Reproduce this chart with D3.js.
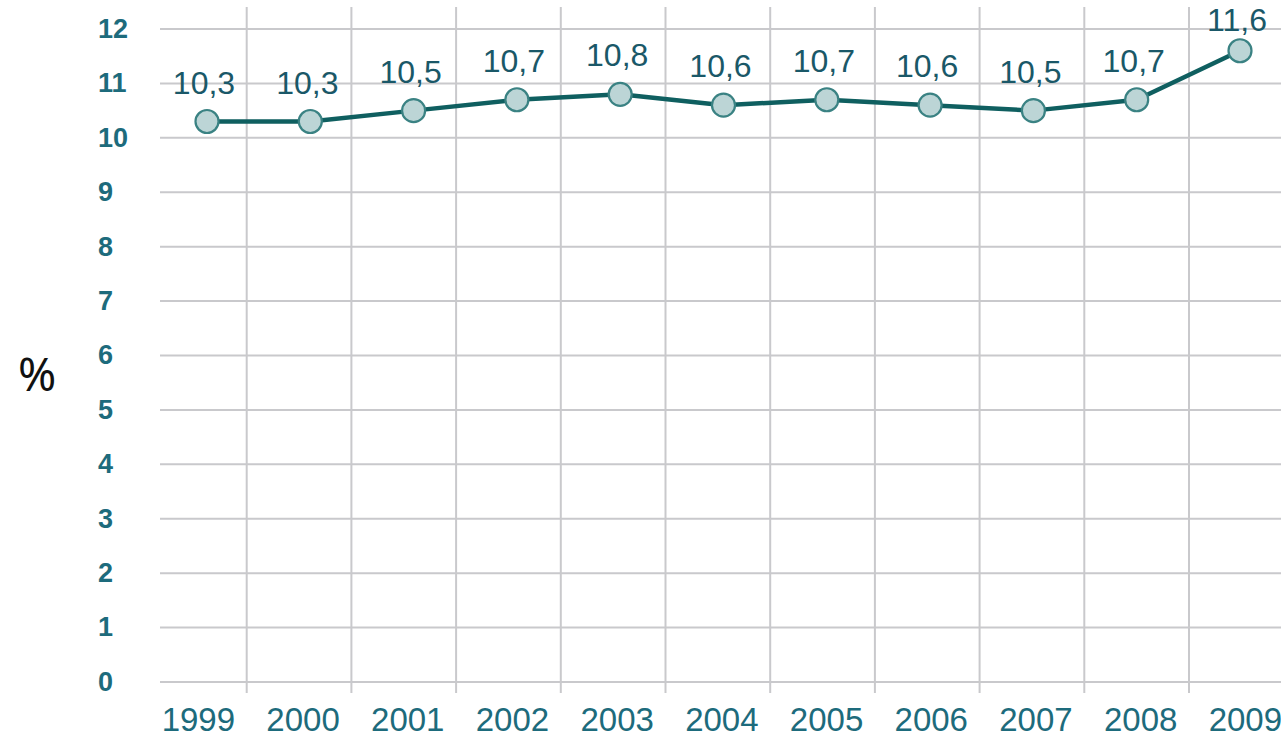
<!DOCTYPE html>
<html>
<head>
<meta charset="utf-8">
<script src="https://cdn.jsdelivr.net/npm/d3@7"></script>
<style>
  body { margin: 0; background: #fff; }
  svg { display: block; }
</style>
</head>
<body>
<div id="chart"></div>
<script>
// datos
const years = ['1999', '2000', '2001', '2002', '2003', '2004', '2005', '2006', '2007', '2008', '2009'];
const values = [10.3, 10.3, 10.5, 10.7, 10.8, 10.6, 10.7, 10.6, 10.5, 10.7, 11.6];
const yTicks = [0, 1, 2, 3, 4, 5, 6, 7, 8, 9, 10, 11, 12];

const width = 1281;
const height = 737;

const svg = d3.select('#chart')
  .append('svg')
  .attr('width', width)
  .attr('height', height);

// escalas: bandas para la rejilla y las etiquetas, puntos para la serie
const x = d3.scaleBand()
  .domain(years)
  .range([142, 1293.7]);

const xPoint = d3.scalePoint()
  .domain(years)
  .range([207, 1240]);

const y = d3.scaleLinear()
  .domain([0, 12])
  .range([682, 29]);

const teal = '#1d6b7c';

// rejilla horizontal
svg.append('g')
  .selectAll('line')
  .data(yTicks)
  .enter().append('line')
  .attr('x1', 160)
  .attr('x2', width)
  .attr('y1', d => y(d))
  .attr('y2', d => y(d))
  .attr('stroke', '#c9c9cc')
  .attr('stroke-width', 2);

// rejilla vertical (bordes de las bandas)
svg.append('g')
  .selectAll('line')
  .data(years.slice(1))
  .enter().append('line')
  .attr('x1', d => x(d))
  .attr('x2', d => x(d))
  .attr('y1', 7)
  .attr('y2', 693)
  .attr('stroke', '#c9c9cc')
  .attr('stroke-width', 2);

// etiquetas eje y
svg.append('g')
  .selectAll('text')
  .data(yTicks)
  .enter().append('text')
  .attr('x', 98)
  .attr('y', d => y(d))
  .attr('dy', '0.33em')
  .attr('font-family', '"Liberation Sans", Arial, sans-serif')
  .attr('font-size', 27)
  .attr('font-weight', 'bold')
  .attr('fill', teal)
  .text(d => d);

// etiquetas eje x
svg.append('g')
  .selectAll('text')
  .data(years)
  .enter().append('text')
  .attr('x', d => x(d) + x.bandwidth() / 2 + 4)
  .attr('y', 731)
  .attr('text-anchor', 'middle')
  .attr('font-family', '"Liberation Sans", Arial, sans-serif')
  .attr('font-size', 33)
  .attr('fill', teal)
  .text(d => d);

// titulo eje y
svg.append('text')
  .attr('x', 37)
  .attr('y', 391)
  .attr('text-anchor', 'middle')
  .attr('font-family', '"Noto Sans", sans-serif')
  .attr('font-size', 46)
  .attr('fill', '#111')
  .text('%');

// linea
const line = d3.line()
  .x((d, i) => xPoint(years[i]))
  .y(d => y(d));

svg.append('path')
  .datum(values)
  .attr('d', line)
  .attr('fill', 'none')
  .attr('stroke', '#0f5f60')
  .attr('stroke-width', 4.5)
  .attr('stroke-linejoin', 'round');

// puntos
svg.append('g')
  .selectAll('circle')
  .data(values)
  .enter().append('circle')
  .attr('cx', (d, i) => xPoint(years[i]))
  .attr('cy', d => y(d))
  .attr('r', 11.5)
  .attr('fill', '#bcd5d6')
  .attr('stroke', '#3a8283')
  .attr('stroke-width', 2.2);

// etiquetas de valores (la ultima se queda dentro del svg)
svg.append('g')
  .selectAll('text')
  .data(values)
  .enter().append('text')
  .attr('x', (d, i) => xPoint(years[i]) - 3)
  .attr('y', d => Math.max(y(d) - 28, 31))
  .attr('text-anchor', 'middle')
  .attr('font-family', '"Liberation Sans", Arial, sans-serif')
  .attr('font-size', 32)
  .attr('fill', '#1a5868')
  .text(d => d3.format('.1f')(d).replace('.', ','));
</script>
</body>
</html>
